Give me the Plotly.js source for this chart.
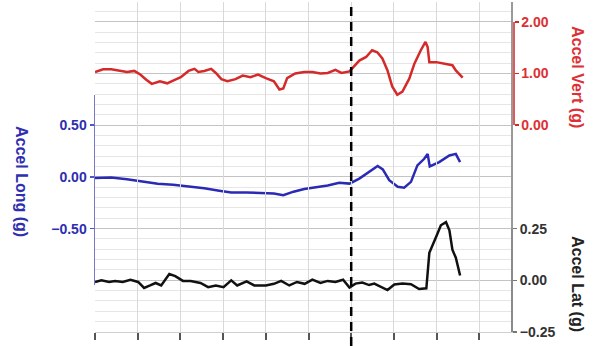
<!DOCTYPE html>
<html>
<head>
<meta charset="utf-8">
<script src="https://cdn.plot.ly/plotly-3.0.1.min.js"></script>
<style>html,body{margin:0;padding:0;background:#fff}#chart{width:605px;height:346px}</style>
</head>
<body>
<div id="chart"></div>
<script>
// ---- data (time in tick units, accelerations in g) ----
const timeVert = [0.00,0.19,0.38,0.57,0.75,0.92,1.06,1.20,1.33,1.52,1.69,1.88,2.01,2.19,2.33,2.42,2.56,2.72,2.83,2.96,3.10,3.29,3.46,3.64,3.82,4.00,4.19,4.32,4.41,4.50,4.69,4.90,5.09,5.28,5.45,5.63,5.77,5.96,6.19,6.35,6.49,6.61,6.73,6.85,6.96,7.08,7.20,7.36,7.48,7.63,7.74,7.79,7.83,7.99,8.22,8.37,8.45,8.57,8.61];
const accelVert = [1.03,1.08,1.08,1.05,1.03,1.05,0.98,0.88,0.80,0.85,0.81,0.88,0.93,1.05,1.09,1.03,1.05,1.09,1.01,0.89,0.85,0.89,0.96,0.93,0.98,0.91,0.85,0.69,0.71,0.91,1.00,1.03,1.03,1.00,1.01,1.07,1.01,1.04,1.25,1.32,1.45,1.41,1.29,1.06,0.75,0.59,0.65,0.90,1.19,1.45,1.61,1.51,1.22,1.22,1.19,1.16,1.06,0.94,0.92];

const timeLong = [0.00,0.38,0.75,1.11,1.47,1.83,2.19,2.56,2.91,3.19,3.54,3.92,4.19,4.41,4.65,4.90,5.19,5.45,5.72,5.96,6.19,6.43,6.62,6.74,6.89,7.09,7.24,7.40,7.55,7.71,7.79,7.84,8.06,8.30,8.45,8.55];
const accelLong = [-0.01,-0.007,-0.023,-0.043,-0.067,-0.077,-0.09,-0.11,-0.133,-0.15,-0.15,-0.155,-0.16,-0.177,-0.143,-0.117,-0.10,-0.083,-0.057,-0.065,-0.016,0.048,0.105,0.073,-0.032,-0.096,-0.105,-0.048,0.111,0.175,0.223,0.102,0.143,0.207,0.223,0.143];

const timeLat = [0.00,0.15,0.33,0.47,0.65,0.83,1.01,1.15,1.29,1.42,1.55,1.74,1.88,2.06,2.24,2.47,2.65,2.83,3.01,3.19,3.33,3.55,3.73,4.00,4.19,4.36,4.55,4.73,4.91,5.09,5.28,5.45,5.63,5.81,5.96,6.10,6.26,6.42,6.54,6.70,6.85,7.01,7.20,7.40,7.59,7.76,7.83,7.99,8.10,8.22,8.30,8.37,8.45,8.55];
const accelLat = [-0.008,0,-0.008,-0.003,-0.008,0.003,-0.008,-0.037,-0.025,-0.013,-0.025,0.03,0.02,-0.003,-0.003,-0.013,-0.033,-0.025,-0.033,0,-0.025,-0.005,-0.025,-0.025,-0.017,-0.003,-0.025,-0.008,-0.017,0.003,-0.013,-0.003,-0.008,0.003,-0.035,-0.016,-0.011,-0.023,-0.016,-0.031,-0.047,-0.020,-0.016,-0.019,-0.042,-0.039,0.133,0.211,0.266,0.281,0.242,0.148,0.109,0.023];

const eventTime = 6.0;
const vertTicks = [0, 1, 2];
const longTicks = [-0.5, 0, 0.5];
const latTicks = [-0.25, 0, 0.25];

// ---- layout geometry ----
const W = 605, H = 346, L = 95, R = 511, T = 2, B = 332;
const plotH = B - T, plotW = R - L;
const M = 51.7;            // px per major gridline step
const XSTEP = 42.7;        // px per x tick
const frac = px => (B - px) / plotH;

const RED = '#d42a2a', BLUE = '#2a2ab4', BLK = '#111111';
const FONT = 'Liberation Sans, Arial, sans-serif';

const bluePxTop = 95, bluePxBot = 285;
const bluePerPx = 1 / (2 * M);
const blueRange = [0.5 - (bluePxBot - (B - 4 * M)) * bluePerPx, 0.5 + ((B - 4 * M) - bluePxTop) * bluePerPx];
const latTopPx = 160;
const latRange = [-0.25, -0.25 + (B - latTopPx) / (2 * M) * 0.5];

// axis ids: y = background grid, y2 = vert, y3 = long, y4 = lat ticks, y5 = lat trace
const traces = [
  {x: [], y: [], yaxis: 'y', type: 'scatter', mode: 'lines', hoverinfo: 'skip'},
  {x: [], y: [], yaxis: 'y4', type: 'scatter', mode: 'lines', hoverinfo: 'skip'},
  {x: timeVert, y: accelVert, yaxis: 'y2', type: 'scatter', mode: 'lines',
   line: {color: RED, width: 2.5}, hoverinfo: 'skip'},
  {x: timeLong, y: accelLong, yaxis: 'y3', type: 'scatter', mode: 'lines',
   line: {color: BLUE, width: 2.5}, hoverinfo: 'skip'},
  {x: timeLat, y: accelLat, yaxis: 'y5', type: 'scatter', mode: 'lines',
   line: {color: BLK, width: 2.5}, hoverinfo: 'skip'}
];

const tickFont = c => ({family: FONT, size: 14, color: c, weight: 'bold'});

const layout = {
  width: W, height: H,
  margin: {l: L, r: W - R, t: T, b: H - B, pad: 0},
  paper_bgcolor: '#ffffff', plot_bgcolor: 'rgba(0,0,0,0)',
  showlegend: false,
  xaxis: {
    range: [0, plotW / XSTEP], dtick: 1, tick0: 0, anchor: 'y',
    showgrid: true, gridcolor: '#d9d9d9', gridwidth: 1,
    showticklabels: false, ticks: 'outside', ticklen: 7, tickwidth: 2, tickcolor: '#555',
    showline: true, linecolor: '#cfcfcf', linewidth: 1, zeroline: false, fixedrange: true
  },
  yaxis: {
    domain: [0, 1], range: [0, plotH / M], anchor: 'x', side: 'right',
    dtick: 1, tick0: 0, showgrid: true, gridcolor: '#c4c4c4', gridwidth: 1,
    minor: {dtick: 0.2, showgrid: true, gridcolor: '#e6e6e6', gridwidth: 1},
    showticklabels: false, ticks: '', showline: true, linecolor: '#9a9a9a', linewidth: 2,
    zeroline: false, fixedrange: true
  },
  yaxis2: {
    domain: [frac(B - 4 * M), frac(B - 6 * M)], range: [0, 2], anchor: 'free', position: 1, shift: 2,
    side: 'right', tickvals: vertTicks, tickformat: '.2f', tickfont: tickFont('#dd3035'),
    ticks: 'outside', ticklen: 4, tickwidth: 1.5, tickcolor: RED,
    showline: true, linecolor: '#e05a5a', linewidth: 1.5, showgrid: false, zeroline: false, fixedrange: true
  },
  yaxis3: {
    domain: [frac(bluePxBot), frac(bluePxTop)], range: blueRange, anchor: 'x', side: 'left',
    tickvals: longTicks, tickformat: '.2f', tickfont: tickFont('#2e2eb0'),
    ticks: 'outside', ticklen: 4, tickwidth: 1.5, tickcolor: '#5555c0',
    showline: true, linecolor: '#7777cc', linewidth: 1.5, showgrid: false, zeroline: false, fixedrange: true
  },
  yaxis4: {
    domain: [0, frac(B - 2 * M)], range: [-0.25, 0.25], anchor: 'x', side: 'right',
    tickvals: latTicks, tickformat: '.2f', tickfont: tickFont('#333333'),
    ticks: 'outside', ticklen: 4, tickwidth: 1.5, tickcolor: '#777',
    showline: true, linecolor: '#8a8a8a', linewidth: 2, showgrid: false, zeroline: false, fixedrange: true
  },
  yaxis5: {
    domain: [0, frac(latTopPx)], range: latRange, anchor: 'x', visible: false, fixedrange: true
  },
  shapes: [{
    type: 'line', xref: 'x', yref: 'paper', x0: eventTime, x1: eventTime,
    y0: frac(H), y1: frac(5), line: {color: '#000', width: 2.5, dash: '9px,6px'}, layer: 'above'
  }],
  annotations: [
    {text: 'Accel Vert (g)', textangle: 90, xref: 'paper', yref: 'paper', xanchor: 'center', yanchor: 'middle',
     x: (578 - L) / plotW, y: frac(77), showarrow: false,
     font: {family: FONT, size: 16, color: '#dd3035', weight: 'bold'}},
    {text: 'Accel Lat (g)', textangle: 90, xref: 'paper', yref: 'paper', xanchor: 'center', yanchor: 'middle',
     x: (578 - L) / plotW, y: frac(284), showarrow: false,
     font: {family: FONT, size: 16, color: '#222', weight: 'bold'}},
    {text: 'Accel Long (g)', textangle: 90, xref: 'paper', yref: 'paper', xanchor: 'center', yanchor: 'middle',
     x: (22 - L) / plotW, y: frac(181), showarrow: false,
     font: {family: FONT, size: 16, color: '#2e2eb0', weight: 'bold'}}
  ]
};

Plotly.newPlot('chart', traces, layout, {staticPlot: true, displayModeBar: false});
</script>
</body>
</html>
